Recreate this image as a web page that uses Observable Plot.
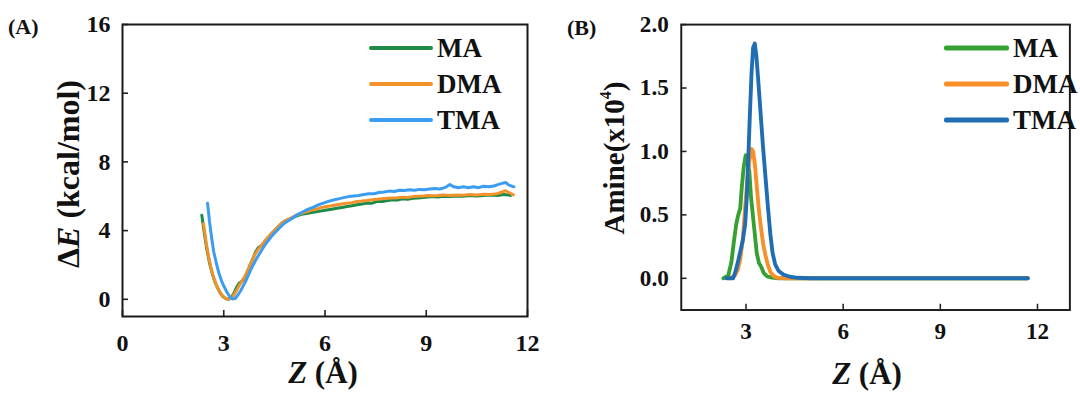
<!DOCTYPE html>
<html><head><meta charset="utf-8">
<script src="https://cdn.jsdelivr.net/npm/d3@7"></script>
<script src="https://cdn.jsdelivr.net/npm/@observablehq/plot@0.6"></script>
<style>
html,body{margin:0;padding:0;background:#fff;overflow:hidden;}
#wrap{position:relative;width:1080px;height:394px;overflow:hidden;font-family:"Times New Roman","Liberation Serif",Tinos,serif;font-weight:bold;color:#111;background:#fff;}
.panel{position:absolute;top:0;}
.t{position:absolute;white-space:nowrap;line-height:1;}
.ytitle{transform:translate(-50%,-50%) rotate(-90deg);}
.xtitle{transform:translate(-50%,0);}
.leg{position:absolute;}
.leg .row{position:absolute;left:0;height:0;}
.leg .sw{position:absolute;left:0;border-radius:2px;transform:translateY(-50%);}
.leg .lab{position:absolute;white-space:nowrap;transform:translateY(-50%);line-height:1;}
</style></head><body><div id="wrap"></div>
<script>
const series = ["MA", "DMA", "TMA"];
const xTicks = [0, 3, 6, 9, 12];
const yTicksA = [0, 4, 8, 12, 16];
const xTicksB = [3, 6, 9, 12];
const yTicksB = [0, 0.5, 1.0, 1.5, 2.0];
const colorsA = ["#1d8a47", "#f2922a", "#3b9df2"];
const colorsB = ["#36a032", "#f8902a", "#1f6db3"];

// Panel A: ΔE (kcal/mol) vs Z (Å)  [z, ΔE]
const energyMA = [[2.35,4.9],[2.42,3.9],[2.5,2.9],[2.58,2.1],[2.66,1.5],[2.74,1.0],[2.82,0.65],[2.9,0.35],[2.98,0.15],[3.06,0.05],[3.14,0.0],[3.22,0.1],[3.3,0.35],[3.38,0.7],[3.46,0.95],[3.54,1.05],[3.62,1.25],[3.7,1.6],[3.78,2.0],[3.86,2.35],[3.94,2.75],[4.02,3.0],[4.1,3.1],[4.2,3.3],[4.3,3.55],[4.4,3.8],[4.5,4.0],[4.6,4.2],[4.7,4.4],[4.8,4.55],[4.9,4.6],[5.0,4.7],[5.15,4.85],[5.3,4.95],[5.45,5.0],[5.6,5.05],[5.75,5.1],[5.9,5.15],[6.05,5.2],[6.2,5.25],[6.35,5.3],[6.5,5.35],[6.65,5.4],[6.8,5.45],[6.95,5.5],[7.1,5.55],[7.25,5.6],[7.4,5.6],[7.55,5.7],[7.7,5.7],[7.85,5.75],[8.0,5.8],[8.15,5.78],[8.3,5.85],[8.45,5.82],[8.6,5.88],[8.75,5.9],[8.9,5.93],[9.05,5.95],[9.2,5.98],[9.35,5.95],[9.5,6.0],[9.7,5.98],[9.9,6.02],[10.1,6.0],[10.3,6.05],[10.5,6.02],[10.7,6.05],[10.9,6.08],[11.1,6.05],[11.3,6.1],[11.5,6.05]];
const energyDMA = [[2.4,4.4],[2.48,3.3],[2.56,2.4],[2.64,1.7],[2.72,1.15],[2.8,0.75],[2.88,0.45],[2.96,0.22],[3.04,0.08],[3.12,0.0],[3.2,0.05],[3.28,0.2],[3.36,0.45],[3.44,0.75],[3.52,1.0],[3.6,1.25],[3.68,1.55],[3.76,1.9],[3.84,2.25],[3.92,2.6],[4.0,2.85],[4.1,3.1],[4.2,3.35],[4.3,3.6],[4.4,3.8],[4.5,4.0],[4.6,4.2],[4.7,4.4],[4.8,4.55],[4.9,4.65],[5.0,4.75],[5.15,4.9],[5.3,5.0],[5.45,5.1],[5.6,5.2],[5.75,5.25],[5.9,5.35],[6.05,5.4],[6.2,5.45],[6.35,5.5],[6.5,5.55],[6.65,5.6],[6.8,5.62],[6.95,5.7],[7.1,5.72],[7.25,5.75],[7.4,5.8],[7.55,5.82],[7.7,5.85],[7.85,5.88],[8.0,5.9],[8.15,5.92],[8.3,5.95],[8.45,5.93],[8.6,5.98],[8.75,6.0],[8.9,6.02],[9.05,6.05],[9.2,6.03],[9.35,6.05],[9.5,6.08],[9.7,6.05],[9.9,6.08],[10.1,6.06],[10.3,6.1],[10.5,6.08],[10.7,6.12],[10.9,6.1],[11.1,6.15],[11.25,6.25],[11.35,6.32],[11.45,6.22],[11.58,6.08]];
const energyTMA = [[2.52,5.6],[2.58,4.5],[2.64,3.6],[2.7,2.8],[2.78,2.1],[2.86,1.5],[2.94,1.05],[3.02,0.7],[3.1,0.4],[3.18,0.15],[3.26,0.02],[3.34,0.05],[3.42,0.25],[3.5,0.5],[3.58,0.8],[3.66,1.1],[3.74,1.45],[3.82,1.8],[3.9,2.1],[3.98,2.4],[4.06,2.65],[4.15,2.95],[4.25,3.25],[4.35,3.5],[4.45,3.75],[4.55,3.95],[4.65,4.15],[4.75,4.35],[4.85,4.5],[4.95,4.62],[5.05,4.75],[5.2,4.95],[5.35,5.1],[5.5,5.25],[5.65,5.35],[5.8,5.5],[5.95,5.6],[6.1,5.7],[6.25,5.78],[6.4,5.85],[6.55,5.92],[6.7,5.98],[6.85,6.02],[7.0,6.05],[7.15,6.1],[7.3,6.15],[7.45,6.15],[7.6,6.22],[7.75,6.25],[7.9,6.3],[8.05,6.28],[8.2,6.35],[8.35,6.33],[8.5,6.38],[8.65,6.35],[8.8,6.4],[8.95,6.38],[9.1,6.42],[9.25,6.45],[9.4,6.42],[9.55,6.5],[9.7,6.68],[9.82,6.55],[9.95,6.5],[10.1,6.55],[10.25,6.5],[10.4,6.55],[10.55,6.5],[10.7,6.58],[10.85,6.55],[11.0,6.6],[11.12,6.68],[11.25,6.75],[11.35,6.8],[11.45,6.65],[11.6,6.55]];

// Panel B: Amine (x10^4) vs Z (Å)  [z, amine]
const amineMA = [[2.3,0],[2.45,0.02],[2.55,0.13],[2.62,0.28],[2.7,0.43],[2.76,0.5],[2.82,0.55],[2.87,0.72],[2.93,0.88],[2.99,0.97],[3.04,0.93],[3.1,0.85],[3.15,0.65],[3.21,0.5],[3.27,0.35],[3.33,0.2],[3.4,0.12],[3.47,0.09],[3.55,0.04],[3.65,0.015],[3.8,0.005],[4.0,0],[5,0],[7,0],[9,0],[11.7,0]];
const amineDMA = [[2.5,0],[2.65,0.02],[2.75,0.07],[2.82,0.15],[2.9,0.3],[2.97,0.55],[3.04,0.78],[3.1,0.92],[3.17,1.02],[3.22,1.0],[3.28,0.88],[3.34,0.7],[3.4,0.53],[3.47,0.38],[3.53,0.27],[3.6,0.18],[3.67,0.11],[3.75,0.05],[3.85,0.02],[3.95,0.005],[4.2,0],[6,0],[9,0],[11.7,0]];
const amineTMA = [[2.4,0],[2.6,0],[2.67,0.05],[2.75,0.13],[2.83,0.22],[2.9,0.3],[2.97,0.42],[3.02,0.62],[3.07,0.95],[3.12,1.3],[3.17,1.62],[3.22,1.82],[3.27,1.85],[3.32,1.75],[3.38,1.55],[3.45,1.3],[3.52,1.05],[3.6,0.8],[3.68,0.55],[3.75,0.35],[3.82,0.2],[3.9,0.11],[4.0,0.06],[4.15,0.03],[4.35,0.012],[4.6,0.004],[5.0,0],[7,0],[9,0],[11.7,0]];

const toRows = (arrs) => series.flatMap((s, i) => arrs[i].map(([z, v]) => ({series: s, z, v})));
const dataA = toRows([energyMA, energyDMA, energyTMA]);
const dataB = toRows([amineMA, amineDMA, amineTMA]);

const wrap = document.getElementById("wrap");
const FONT = "'Times New Roman', 'Liberation Serif', Tinos, serif";
const baseStyle = {fontFamily: FONT, fontWeight: "bold", fontSize: "24px", color: "#111", background: "transparent", overflow: "visible"};

// inward tick marks, length in px
function innerTicks(xt, yt, fw, fh, len) {
  return [
    Plot.tickX(xt, {x: d => d, insetTop: fh - len, stroke: "#222", strokeWidth: 1.6}),
    Plot.tickY(yt, {y: d => d, insetRight: fw - len, stroke: "#222", strokeWidth: 1.6})
  ];
}

const A = {w: 540, l: 122, r: 13, t: 24, b: 78};
const plotA = Plot.plot({
  width: A.w, height: 394,
  marginLeft: A.l, marginRight: A.r, marginTop: A.t, marginBottom: A.b,
  style: baseStyle,
  x: {domain: [0, 12]},
  y: {domain: [-1, 16]},
  color: {domain: series, range: colorsA},
  marks: [
    Plot.line(dataA, {x: "z", y: "v", z: "series", stroke: "series", strokeWidth: 3, curve: "linear"}),
    ...innerTicks(xTicks, yTicksA, A.w - A.l - A.r, 394 - A.t - A.b, 6),
    Plot.frame({stroke: "#1a1a1a", strokeWidth: 2}),
    Plot.axisX({ticks: xTicks, tickSize: 0, tickPadding: 17, label: null, fontSize: 24}),
    Plot.axisY({ticks: yTicksA, tickSize: 0, tickPadding: 12, label: null, fontSize: 24})
  ]
});

const B = {w: 560, l: 146, r: 11, t: 25, b: 73};
const plotB = Plot.plot({
  width: B.w, height: 394,
  marginLeft: B.l, marginRight: B.r, marginTop: B.t, marginBottom: B.b,
  style: baseStyle,
  x: {domain: [1, 13]},
  y: {domain: [-0.25, 2.0]},
  color: {domain: series, range: colorsB},
  marks: [
    Plot.line(dataB, {x: "z", y: "v", z: "series", stroke: "series", strokeWidth: 4, curve: "linear"}),
    ...innerTicks(xTicksB, yTicksB, B.w - B.l - B.r, 394 - B.t - B.b, 6),
    Plot.frame({stroke: "#1a1a1a", strokeWidth: 2}),
    Plot.axisX({ticks: xTicksB, tickSize: 0, tickPadding: 13, label: null, fontSize: 24}),
    Plot.axisY({ticks: yTicksB, tickFormat: d3.format(".1f"), tickSize: 0, tickPadding: 13, label: null, fontSize: 24})
  ]
});

const pa = document.createElement("div"); pa.className = "panel"; pa.style.left = "0px"; pa.appendChild(plotA); wrap.appendChild(pa);
const pb = document.createElement("div"); pb.className = "panel"; pb.style.left = "540px"; pb.appendChild(plotB); wrap.appendChild(pb);

function addText(html, cls, left, top, size) {
  const d = document.createElement("div");
  d.className = "t " + cls;
  d.style.left = left + "px"; d.style.top = top + "px"; d.style.fontSize = size + "px";
  d.innerHTML = html;
  wrap.appendChild(d);
}
addText("(A)", "", 8, 16, 22);
addText("(B)", "", 567, 17, 22);
addText("Δ<i>E</i> (kcal/mol)", "ytitle", 68, 174, 32);
addText("Amine(x10<sup style='font-size:0.55em;vertical-align:0.8em;line-height:0'>4</sup>)", "ytitle", 614, 158, 29);
addText("<i>Z</i> (Å)", "xtitle", 323, 357, 31);
addText("<i>Z</i> (Å)", "xtitle", 867, 358, 31);

function addLegend(left, colors, lineW, ys, thick) {
  const g = document.createElement("div"); g.className = "leg";
  g.style.left = left + "px"; g.style.top = "0px";
  series.forEach((s, i) => {
    const r = document.createElement("div"); r.className = "row"; r.style.top = ys[i] + "px";
    const sw = document.createElement("div"); sw.className = "sw"; sw.style.width = lineW + "px"; sw.style.background = colors[i]; sw.style.height = thick + "px";
    const lb = document.createElement("div"); lb.className = "lab"; lb.style.left = (lineW + 4) + "px"; lb.style.fontSize = "27px"; lb.textContent = s;
    r.appendChild(sw); r.appendChild(lb); g.appendChild(r);
  });
  wrap.appendChild(g);
}
addLegend(369, colorsA, 64, [48, 84, 120], 4);
addLegend(944, colorsB, 65, [48, 84, 120], 5);
</script>
</body></html>
